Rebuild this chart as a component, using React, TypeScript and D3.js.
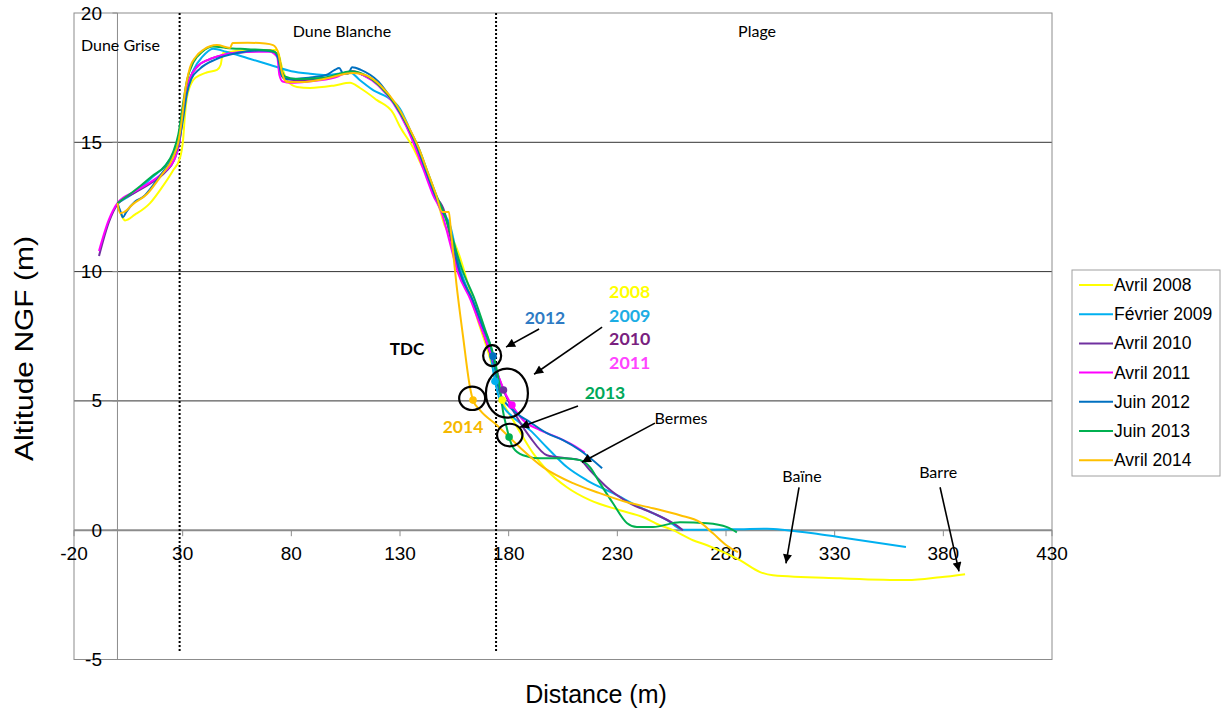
import React from "react";
import * as d3 from "d3";

type P = [number, number];

const xTicks = [-20, 30, 80, 130, 180, 230, 280, 330, 380, 430];
const yTicks = [-5, 0, 5, 10, 15, 20];
const yGrid = [5, 10, 15];
const zoneBounds = [28.6, 174.2];

const avril2008: P[] = [
  [0.5, 12.5], [2, 12.15], [3.5, 11.98], [8, 12.2], [15, 12.65], [20, 13.2], [25.5, 13.9], [28.8, 14.4],
  [30.2, 15.1], [31, 16.0], [32, 16.75], [34.8, 17.4], [38, 17.6], [41, 17.7], [45.8, 17.8], [47.5, 18.0],
  [48.5, 18.45], [52, 18.5], [59.6, 18.57], [73.4, 18.57], [75.7, 17.9], [78, 17.4], [82.6, 17.14],
  [88.6, 17.1], [100, 17.2], [107, 17.3], [111.6, 17.1], [119.4, 16.63], [126.8, 16.13], [130, 15.6],
  [136, 14.8], [140, 14.1], [143.8, 13.55], [148, 12.5], [150.5, 11.8], [154, 11.3], [157, 10.7],
  [161, 9.6], [165.5, 8.2], [170, 7.05], [174, 5.9], [177, 5.03], [182, 4.26], [186.6, 3.6], [191.2, 2.98],
  [197.6, 2.32], [206.8, 1.66], [217.4, 1.16], [231.2, 0.77], [242, 0.5], [248, 0.25], [255.6, 0.0],
  [264.8, -0.39], [271.3, -0.58], [286.4, -1.16], [295.7, -1.62], [301.6, -1.74], [332.5, -1.86],
  [363.3, -1.93], [378.5, -1.82], [390, -1.7],
];

const fevrier2009: P[] = [
  [0, 12.65], [5, 12.9], [10, 13.2], [16, 13.65], [22, 14.1], [26, 14.6], [28.5, 15.2], [30.5, 16.3],
  [32.5, 17.2], [35, 17.8], [39, 18.3], [44, 18.62], [50, 18.5], [60, 18.25], [70, 18.0], [80, 17.75],
  [88.6, 17.65], [96, 17.6], [107, 17.7], [111.6, 17.4], [118, 17.0], [124, 16.75], [130, 16.3],
  [134, 15.6], [137.5, 14.9], [141.5, 14.0], [145.5, 13.1], [149, 12.35], [151, 12.15], [153, 11.8],
  [157, 10.3], [163, 8.9], [167.5, 7.9], [171.5, 6.85], [173.7, 5.76], [176, 5.03], [182, 4.37],
  [189.8, 3.87], [197.6, 3.2], [206.8, 2.44], [216, 1.93], [228, 1.43], [240.4, 0.89], [252.9, 0.39],
  [260.2, 0.02], [270, 0.02], [286.4, 0.04], [298.9, 0.06], [308, 0.0], [320, -0.12], [332.5, -0.27],
  [362.8, -0.65],
];

const avril2010: P[] = [
  [-8.5, 10.6], [-4, 11.9], [0, 12.6], [8, 13.05], [15, 13.4], [22, 13.85], [26, 14.3], [28.5, 15.0],
  [30, 16.0], [31.5, 16.9], [33.5, 17.5], [37, 17.95], [42, 18.2], [50, 18.4], [60, 18.5], [70, 18.55],
  [73.5, 18.4], [75, 17.7], [77, 17.45], [85, 17.4], [100, 17.55], [108, 17.75], [113, 17.6],
  [120, 17.25], [127, 16.55], [133, 15.65], [137.2, 14.85], [141.2, 13.95], [145.2, 13.05], [150.5, 12.3],
  [153.5, 11.2], [157, 10.0], [163, 8.9], [167.5, 7.85], [172, 6.7], [175.5, 5.9], [177.6, 5.42],
  [183.8, 4.37], [189.8, 3.6], [197.6, 2.9], [206.8, 2.78], [212.8, 2.71], [217.4, 2.32], [225.2, 1.66],
  [235.8, 1.04], [246.4, 0.66], [255.6, 0.27], [260.2, 0.0],
];

const avril2011: P[] = [
  [-8.5, 10.8], [-4, 12.0], [0, 12.65], [8, 13.1], [15, 13.45], [22, 13.9], [26, 14.3], [28.5, 15.0],
  [30, 16.0], [31.5, 16.9], [33.5, 17.5], [37, 17.95], [42, 18.2], [48, 18.37], [55, 18.47], [62, 18.5],
  [70, 18.5], [73.5, 18.3], [74.5, 17.6], [76, 17.35], [80, 17.3], [88, 17.35], [100, 17.5],
  [108, 17.75], [113, 17.6], [120, 17.2], [127, 16.5], [133, 15.6], [137, 14.8], [141, 13.9],
  [145, 13.0], [149.5, 12.2], [153, 11.1], [156.5, 10.0], [162.5, 8.9], [167, 7.9], [171.5, 6.9],
  [176, 5.8], [179, 5.2], [181.5, 4.84], [186.6, 4.26], [194.4, 3.87], [202.2, 3.6], [209.6, 3.29],
  [215, 3.0],
];

const juin2012: P[] = [
  [0, 12.65], [1.5, 12.3], [2.5, 12.1], [4, 12.3], [8, 12.7], [12, 12.9], [16, 13.3], [20, 13.75],
  [25, 14.35], [28, 14.9], [30, 15.8], [32, 16.9], [34, 17.45], [38, 17.85], [45, 18.2], [55, 18.45],
  [65, 18.55], [72, 18.5], [74, 18.2], [75.5, 17.6], [78, 17.45], [88, 17.5], [96, 17.6], [100, 17.8],
  [102, 17.87], [104, 17.65], [106, 17.65], [108, 17.9], [112, 17.8], [120, 17.35], [127, 16.55],
  [133, 15.7], [137.5, 14.9], [141.5, 14.0], [145.5, 13.1], [149, 12.4], [151.5, 12.0], [154, 11.3],
  [157.5, 10.0], [163.5, 8.9], [168, 7.9], [172.8, 6.73], [174.6, 5.8], [176, 5.3], [182, 4.64],
  [189.8, 4.18], [197.6, 3.75], [205, 3.48], [212.8, 3.09], [223, 2.4],
];

const juin2013: P[] = [
  [0, 12.65], [5, 12.95], [10.4, 13.3], [16, 13.7], [22, 14.1], [25.5, 14.6], [28, 15.3], [30, 16.4],
  [32, 17.4], [35, 18.1], [39, 18.5], [44, 18.7], [50, 18.65], [60, 18.6], [70, 18.55], [74, 18.4],
  [75.5, 17.8], [77, 17.55], [82, 17.45], [95, 17.5], [108, 17.75], [114, 17.6], [121, 17.15],
  [128, 16.45], [134, 15.55], [138.5, 14.8], [142.5, 13.9], [146.5, 13.0], [150, 12.3], [154, 11.3],
  [158.5, 10.1], [164.5, 8.9], [169, 7.8], [173.5, 6.6], [176, 5.5], [177.4, 4.6], [179, 4.0],
  [180.2, 3.6], [182, 3.2], [186.6, 2.9], [194.4, 2.78], [205, 2.78], [212.8, 2.71], [217.4, 2.44],
  [222, 1.82], [228, 1.04], [234.5, 0.27], [239, 0.12], [246.4, 0.12], [258.8, 0.31], [271.3, 0.27],
  [280.5, 0.12], [285, -0.08],
];

const avril2014: P[] = [
  [0, 12.65], [1.2, 12.26], [3, 12.3], [7, 12.6], [13.6, 13.0], [20, 13.7], [25.5, 14.4], [28, 15.0],
  [29.5, 15.8], [31, 16.9], [33.4, 17.9], [36, 18.3], [39.4, 18.57], [45.8, 18.76], [51.8, 18.65],
  [53, 18.84], [60, 18.85], [68, 18.82], [71.6, 18.76], [74, 18.45], [75.7, 17.7], [78, 17.33],
  [85, 17.33], [95, 17.45], [108.4, 17.68], [114, 17.6], [121, 17.2], [128, 16.5], [134, 15.6],
  [138.5, 14.8], [142.5, 13.9], [146.5, 13.0], [149.5, 12.3], [152.5, 12.3], [153.5, 11.5], [156, 9.5],
  [159, 7.5], [162.2, 5.53], [163.6, 5.03], [166.8, 4.64], [174.6, 4.06], [185.2, 3.2], [195.8, 2.44],
  [209.6, 1.82], [220.6, 1.47], [234.5, 1.08], [246.4, 0.85], [258.8, 0.58], [268, 0.31], [274, -0.12],
  [280.5, -0.6], [285.5, -0.85],
];

const seriesNames = ["Avril 2008", "Février 2009", "Avril 2010", "Avril 2011", "Juin 2012", "Juin 2013", "Avril 2014"];
const seriesData = [avril2008, fevrier2009, avril2010, avril2011, juin2012, juin2013, avril2014];
const seriesColors = ["#FFFF00", "#00B0F0", "#7030A0", "#FF00FF", "#0070C0", "#00B050", "#FFC000"];

// TDC points (distance, altitude) and the series each belongs to
const tdcSeries = [4, 1, 2, 0, 3, 6, 5];
const tdcPoints: P[] = [
  [172.8, 6.73], [173.7, 5.76], [177.6, 5.42], [177, 5.03], [181.5, 4.84], [163.6, 5.03], [180.2, 3.6],
];

// annotation ellipses: center (distance, altitude), radii in px
const ringCenters: P[] = [[172.4, 6.75], [179.2, 5.3], [163.2, 5.1], [180.5, 3.68]];
const ringRadii: P[] = [[9, 10.5], [21, 24.5], [13, 11.7], [12.7, 11.3]];

const arrowFrom: P[] = [[194, 7.78], [223, 7.85], [211.9, 4.8], [247.3, 4.14], [313.6, 1.66], [378.5, 1.66]];
const arrowTo: P[] = [[178.8, 7.08], [191.7, 6.03], [185.2, 3.98], [213.7, 2.63], [307.6, -1.28], [387.2, -1.59]];

const yearLabels = ["2008", "2009", "2010", "2011"];
const yearLabelColors = ["#FFFF00", "#1CADE4", "#7A1F80", "#FF44FF"];
const yearLabelPos: P[] = [[226.2, 9.25], [226.2, 8.32], [226.2, 7.43], [226.2, 6.5]];

export default function App() {
  const W = 1224, H = 710;
  const x = d3.scaleLinear().domain([-20, 430]).range([74, 1052]);
  const y = d3.scaleLinear().domain([-5, 20]).range([659.5, 13]);
  const line = d3.line<P>().x((d) => x(d[0])).y((d) => y(d[1])).curve(d3.curveMonotoneX);

  const tickFont = "'Liberation Sans', Arial, sans-serif";
  const annFont = "Lato, 'Open Sans', sans-serif";
  const gray = "#8c8c8c";

  return (
    <svg width={W} height={H} style={{ position: "absolute", left: 0, top: 0, background: "#fff" }}>
      <defs>
        <marker id="ah" viewBox="0 0 10 10" refX="10" refY="5" markerWidth="11" markerHeight="9"
          markerUnits="userSpaceOnUse" orient="auto">
          <path d="M0,0 L10,5 L0,10 z" fill="#000" />
        </marker>
      </defs>
      <rect x={0} y={0} width={W} height={H} fill="#fff" />

      {/* grid lines */}
      {yGrid.map((v) => (
        <line key={v} x1={x(-20)} x2={x(430)} y1={y(v)} y2={y(v)} stroke="#333" strokeWidth={1} />
      ))}
      {/* plot frame */}
      <rect x={x(-20)} y={y(20)} width={x(430) - x(-20)} height={y(-5) - y(20)} fill="none" stroke={gray} strokeWidth={1} />
      {/* y axis at x=0 */}
      <line x1={x(0)} x2={x(0)} y1={y(20)} y2={y(-5)} stroke={gray} strokeWidth={1} />
      {yTicks.map((v) => (
        <line key={v} x1={x(0) - 5} x2={x(0)} y1={y(v)} y2={y(v)} stroke={gray} strokeWidth={1} />
      ))}
      {/* x axis at y=0 */}
      <line x1={x(-20)} x2={x(430)} y1={y(0)} y2={y(0)} stroke={gray} strokeWidth={2} />
      {xTicks.map((v) => (
        <line key={v} x1={x(v)} x2={x(v)} y1={y(0)} y2={y(0) + 6} stroke={gray} strokeWidth={1} />
      ))}

      {/* zone dotted lines */}
      {zoneBounds.map((v) => (
        <line key={v} x1={x(v)} x2={x(v)} y1={y(20)} y2={653} stroke="#000" strokeWidth={2} strokeDasharray="2,2" />
      ))}

      {/* tick labels */}
      {yTicks.map((v) => (
        <text key={v} x={102} y={y(v)} textAnchor="end" dominantBaseline="central" fontFamily={tickFont} fontSize={19} fill="#000">
          {v}
        </text>
      ))}
      {xTicks.map((v) => (
        <text key={v} x={x(v)} y={553} textAnchor="middle" dominantBaseline="central" fontFamily={tickFont} fontSize={19} fill="#000">
          {v}
        </text>
      ))}

      {/* axis titles */}
      <text x={596} y={694} textAnchor="middle" dominantBaseline="central" fontFamily={tickFont} fontSize={25} fill="#000">
        Distance (m)
      </text>
      <text transform={`translate(24,348.5) rotate(-90)`} textAnchor="middle" dominantBaseline="central" fontFamily={tickFont}
        fontSize={25} textLength={225} lengthAdjust="spacingAndGlyphs" fill="#000">
        Altitude NGF (m)
      </text>

      {/* zone labels */}
      <text x={x(-16.8)} y={y(18.8)} dominantBaseline="central" fontFamily={annFont} fontSize={16} fill="#000">Dune Grise</text>
      <text x={x(103.3)} y={y(19.34)} textAnchor="middle" dominantBaseline="central" fontFamily={annFont} fontSize={16} fill="#000">Dune Blanche</text>
      <text x={x(294.3)} y={y(19.34)} textAnchor="middle" dominantBaseline="central" fontFamily={annFont} fontSize={16} fill="#000">Plage</text>

      {/* series */}
      {seriesData.map((s, i) => (
        <path key={seriesNames[i]} d={line(s) || ""} fill="none" stroke={seriesColors[i]} strokeWidth={2} strokeLinejoin="round" />
      ))}

      {/* TDC points */}
      {tdcPoints.map((p, i) => (
        <circle key={i} cx={x(p[0])} cy={y(p[1])} r={3.8} fill={seriesColors[tdcSeries[i]]} />
      ))}

      {/* rings */}
      {ringCenters.map((c, i) => (
        <ellipse key={i} cx={x(c[0])} cy={y(c[1])} rx={ringRadii[i][0]} ry={ringRadii[i][1]} fill="none" stroke="#000" strokeWidth={2.2} />
      ))}

      {/* arrows */}
      {arrowFrom.map((a, i) => (
        <line key={i} x1={x(a[0])} y1={y(a[1])} x2={x(arrowTo[i][0])} y2={y(arrowTo[i][1])} stroke="#000" strokeWidth={1.6} markerEnd="url(#ah)" />
      ))}

      {/* annotation labels */}
      <text x={x(133.2)} y={y(7.04)} textAnchor="middle" dominantBaseline="central" fontFamily={annFont} fontWeight="bold" fontSize={17} fill="#000">TDC</text>
      <text x={x(196.7)} y={y(8.24)} textAnchor="middle" dominantBaseline="central" fontFamily={annFont} fontWeight="bold" fontSize={17.5} fill="#2E7BC4">2012</text>
      {yearLabels.map((t, i) => (
        <text key={t} x={x(yearLabelPos[i][0])} y={y(yearLabelPos[i][1])} dominantBaseline="central" fontFamily={annFont} fontWeight="bold" fontSize={17.8} fill={yearLabelColors[i]}>{t}</text>
      ))}
      <text x={x(224.3)} y={y(5.34)} textAnchor="middle" dominantBaseline="central" fontFamily={annFont} fontWeight="bold" fontSize={17.5} fill="#00A85A">2013</text>
      <text x={x(159)} y={y(4.02)} textAnchor="middle" dominantBaseline="central" fontFamily={annFont} fontWeight="bold" fontSize={17.5} fill="#F5B800">2014</text>
      <text x={x(259.3)} y={y(4.37)} textAnchor="middle" dominantBaseline="central" fontFamily={annFont} fontSize={16} fill="#000">Bermes</text>
      <text x={x(315)} y={y(2.13)} textAnchor="middle" dominantBaseline="central" fontFamily={annFont} fontSize={16} fill="#000">Baïne</text>
      <text x={x(377.6)} y={y(2.28)} textAnchor="middle" dominantBaseline="central" fontFamily={annFont} fontSize={16} fill="#000">Barre</text>

      {/* legend */}
      <rect x={1072} y={270} width={148} height={206} fill="#fff" stroke="#a0a0a0" strokeWidth={1} />
      {seriesNames.map((n, i) => (
        <g key={n} transform={`translate(1079,${285 + i * 29.2})`}>
          <line x1={0} x2={34} y1={0} y2={0} stroke={seriesColors[i]} strokeWidth={2} />
          <text x={35} y={0} dominantBaseline="central" fontFamily={tickFont} fontSize={17.5} fill="#000">{n}</text>
        </g>
      ))}
    </svg>
  );
}
